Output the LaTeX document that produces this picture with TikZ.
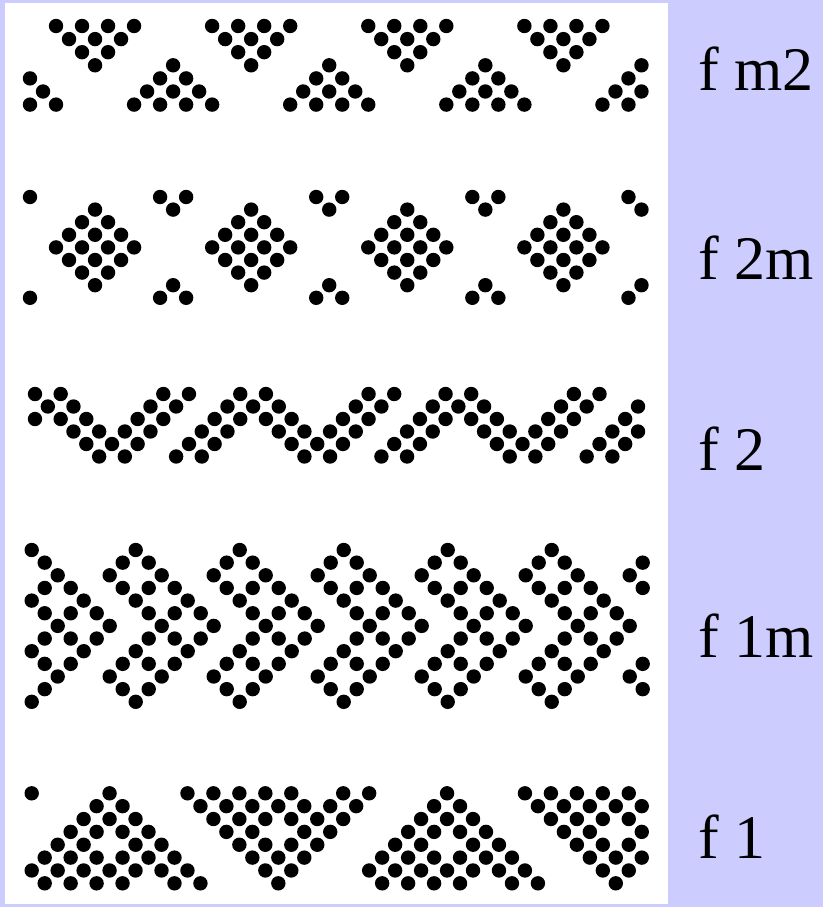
\documentclass[tikz,border=0pt]{standalone}
\usepackage{fontspec}
\setmainfont{Liberation Serif}
\definecolor{lav}{HTML}{CCCCFF}
\newcommand\putdot[2]{%
  \pgfmathtruncatemacro\jj{#1}%
  \pgfmathtruncatemacro\kk{#2}%
  \ifnum\jj<0 \else\ifnum\jj>47 \else
    \fill[dotfill] (\X+\DX*\jj, \Y+\DY*\kk) circle[radius=7.2pt];
  \fi\fi}
\newcommand\motif[2]{%
  \foreach \b in {#1}{\foreach \o/\k in {#2}{\putdot{\b+\o}{\k}}}}
\tikzset{dotfill/.style={fill=black},
  lab/.style={anchor=base west,font=\fontsize{62}{62}\selectfont,inner sep=0pt}}
\begin{document}
\begin{tikzpicture}[x=1pt,y=-1pt]
\fill[lav] (0,0) rectangle (823,907);
\fill[white] (5,3.5) rectangle (668,904);
% ---- f m2
\def\X{30}\def\DX{13.01}\def\Y{26}\def\DY{13.1}
\motif{-12,0,12,24,36}{2/0,4/0,6/0,8/0,3/1,5/1,7/1,4/2,6/2,5/3,
  11/3,10/4,12/4,9/5,11/5,13/5,8/6,10/6,12/6,14/6}
% ---- f 2m
\def\X{30}\def\DX{13.01}\def\Y{197}\def\DY{12.6}
\motif{-12,0,12,24,36}{5/1,4/2,6/2,3/3,5/3,7/3,2/4,4/4,6/4,8/4,3/5,5/5,7/5,4/6,6/6,5/7,
  10/0,12/0,11/1,11/7,10/8,12/8}
% ---- f 2
\def\X{35}\def\DX{12.83}\def\Y{394}\def\DY{12.5}
\motif{-16,0,16,32}{16/0,18/0,26/0,28/0,
  15/1,17/1,19/1,25/1,27/1,
  14/2,16/2,18/2,20/2,24/2,26/2,
  13/3,15/3,19/3,21/3,23/3,25/3,
  12/4,14/4,20/4,22/4,24/4,
  11/5,13/5,21/5,23/5}
% ---- f 1m
\def\X{31.7}\def\DX{13.0}\def\Y{550}\def\DY{12.65}
\motif{0,8,16,24,32,40,48}{0/0,-1/1,1/1,-2/2,2/2,-1/3,1/3,3/3,0/4,4/4,1/5,3/5,5/5,2/6,6/6,
  1/7,3/7,5/7,0/8,4/8,-1/9,1/9,3/9,-2/10,2/10,-1/11,1/11,0/12}
% ---- f 1
\def\X{31.7}\def\DX{12.98}\def\Y{793.3}\def\DY{12.86}
\motif{-26,0,26}{6/0,5/1,7/1,4/2,6/2,8/2,3/3,5/3,7/3,9/3,2/4,4/4,8/4,10/4,
  1/5,3/5,5/5,7/5,9/5,11/5,0/6,2/6,4/6,6/6,8/6,10/6,12/6,1/7,3/7,5/7,7/7,11/7,13/7,
  12/0,14/0,16/0,18/0,20/0,24/0,26/0,13/1,15/1,17/1,19/1,21/1,23/1,25/1,
  14/2,16/2,18/2,20/2,22/2,24/2,15/3,17/3,21/3,23/3,16/4,18/4,20/4,22/4,
  17/5,19/5,21/5,18/6,20/6,19/7}
% ---- labels
\node[lab] (lm2) at (698,90.5) {f m2};
\node[lab] (l2m) at (698,279) {f 2m};
\node[lab] (l2) at (698,470) {f 2};
\node[lab] (l1m) at (698,657) {f 1m};
\node[lab] (l1) at (698,858.7) {f 1};
\end{tikzpicture}
\end{document}
